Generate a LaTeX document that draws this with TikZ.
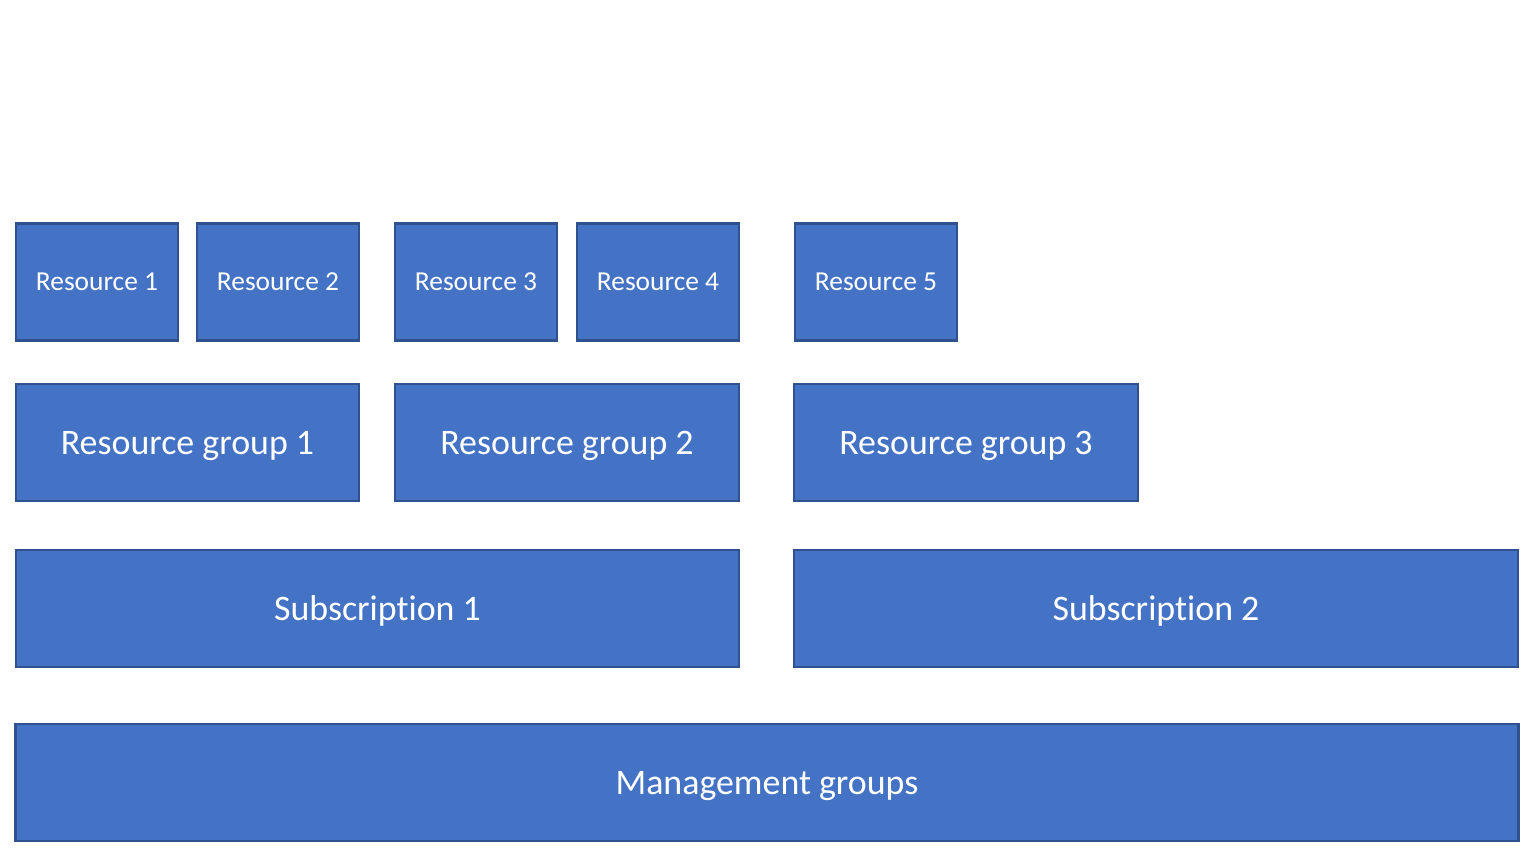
\documentclass[tikz,border=0pt]{standalone}
\usepackage{fontspec}
\setmainfont{Carlito}[Ligatures=NoCommon]
\usepackage{xcolor}
\usetikzlibrary{positioning}
\definecolor{boxfill}{HTML}{4472C4}
\definecolor{boxline}{HTML}{2F528F}

\begin{document}
\begin{tikzpicture}[x=0.01cm, y=-0.01cm,
        layer/.style={draw=boxline, line width=0.7pt, fill=boxfill, text=white,
            inner sep=0pt, minimum height=1.17cm, text height=6.6pt, text depth=0pt,
            font=\fontsize{10.2}{12}\selectfont},
        res/.style={layer, minimum width=1.62cm, text height=5.1pt,
            font=\fontsize{7.8}{9}\selectfont}]
        \useasboundingbox (0, 0) rectangle (1536, 859);

        % resources
        \node[res] (res1) at (97, 282) {Resource 1};
        \node[res] (res2) at (278, 282) {Resource 2};
        \node[res] (res3) at (476, 282) {Resource 3};
        \node[res] (res4) at (658, 282) {Resource 4};
        \node[res] (res5) at (876, 282) {Resource 5};

        % resource groups
        \node[layer, minimum width=3.43cm] (rg1) at (187.5, 442.5) {Resource group 1};
        \node[layer, minimum width=3.44cm] (rg2) at (567, 442.5) {Resource group 2};
        \node[layer, minimum width=3.44cm] (rg3) at (966, 442.5) {Resource group 3};

        % subscriptions
        \node[layer, minimum width=7.23cm] (sub1) at (377.5, 608.5) {Subscription 1};
        \node[layer, minimum width=7.24cm] (sub2) at (1156, 608.5) {Subscription 2};

        % management groups
        \node[layer, minimum width=15.02cm] (mg) at (767, 782.5) {Management groups};
\end{tikzpicture}
\end{document}
